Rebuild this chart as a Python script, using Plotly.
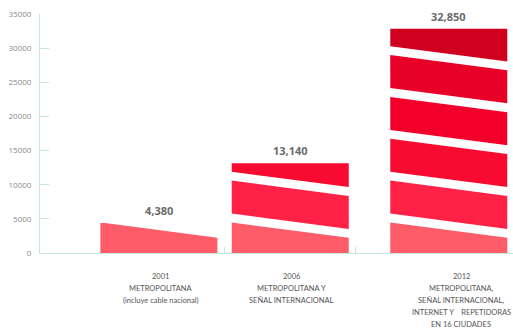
import plotly.graph_objects as go

# ---- data ----
years = ["2001", "2006", "2012"]
values = [4380, 13140, 32850]
value_labels = ["4,380", "13,140", "32,850"]
desc_lines = [
    ["METROPOLITANA", "(incluye cable nacional)"],
    ["METROPOLITANA Y", "SEÑAL INTERNACIONAL"],
    ["METROPOLITANA,", "SEÑAL INTERNACIONAL,", "INTERNET Y&nbsp;&nbsp;&nbsp;&nbsp;REPETIDORAS", "EN 16 CIUDADES"],
]
y_ticks = [0, 5000, 10000, 15000, 20000, 25000, 30000, 35000]

# ---- layout / style ----
x_pos = [1.016, 2.139, 3.494]
label_x = [1.03, 2.15, 3.60]
bar_w = 1.0
x_ticks = [1.573, 2.70]
stripe_first = 4000   # first boundary (at bar centre)
stripe_period = 6130
stripe_gap = 1300
stripe_slant = 2240   # drop from left to right edge
stripe_colors = ["#FF5C69", "#FF2146", "#F90A30", "#F2002B", "#E70028", "#D0001F"]
axis_col = "#C6E7DA"


def stripe_poly(xc, k, vmax):
    xl, xr = xc - bar_w / 2, xc + bar_w / 2
    if k == 0:
        def yb(x):
            return 0.0
    else:
        def yb(x):
            c = stripe_first + (k - 1) * stripe_period + stripe_gap / 2
            return c + stripe_slant * (0.5 - (x - xl) / bar_w)

    def yt(x):
        c = stripe_first + k * stripe_period - stripe_gap / 2
        return c + stripe_slant * (0.5 - (x - xl) / bar_w)

    xs = [xl, xr]
    for f in (yb, yt):
        a, b = f(xl), f(xr)
        if a != b and (a - vmax) * (b - vmax) < 0:
            xs.append(xl + (a - vmax) / (a - b) * bar_w)
    xs = sorted(xs)
    top = [min(yt(x), vmax) for x in xs]
    bot = [min(max(yb(x), 0.0), t) for x, t in zip(xs, top)]
    px = xs + xs[::-1] + [xs[0]]
    py = top + bot[::-1] + [top[0]]
    return px, py


fig = go.Figure()
for i, v in enumerate(values):
    k = 0
    while True:
        cb = 0 if k == 0 else stripe_first + (k - 1) * stripe_period + stripe_gap / 2
        if cb >= v:
            break
        px, py = stripe_poly(x_pos[i], k, v)
        fig.add_trace(go.Scatter(
            x=px, y=py, mode="lines", fill="toself",
            fillcolor=stripe_colors[min(k, len(stripe_colors) - 1)],
            line=dict(width=0), hoverinfo="skip", showlegend=False))
        k += 1
    fig.add_annotation(x=x_pos[i], y=v, text="<b>" + value_labels[i] + "</b>",
                       showarrow=False, yanchor="bottom", yshift=3,
                       font=dict(family="Open Sans", size=11, color="#6A6A6A"))
    lines = [years[i]] + desc_lines[i]
    for j, t in enumerate(lines):
        fig.add_annotation(x=label_x[i], y=0, yref="y", text=t, showarrow=False,
                           yanchor="middle", yshift=-23 - 12.2 * j,
                           font=dict(family="Lato", size=7.5, color="#555555"))

fig.update_layout(
    width=513, height=335,
    margin=dict(l=40, r=0, t=14, b=82),
    paper_bgcolor="white", plot_bgcolor="white",
    xaxis=dict(range=[0, 4.043], showgrid=False, zeroline=False,
               showline=True, linecolor=axis_col, linewidth=1,
               tickvals=x_ticks, ticktext=["", ""], ticks="inside",
               ticklen=6, tickcolor=axis_col),
    yaxis=dict(range=[0, 35000], tickvals=y_ticks, tickformat="d",
               showgrid=False, zeroline=False, showline=True,
               linecolor=axis_col, linewidth=1, ticks="inside",
               ticklen=9, tickcolor=axis_col, ticklabelstandoff=6,
               tickfont=dict(family="Open Sans", size=8, color="#8A8A8A")),
)

fig.write_html("out.html")
